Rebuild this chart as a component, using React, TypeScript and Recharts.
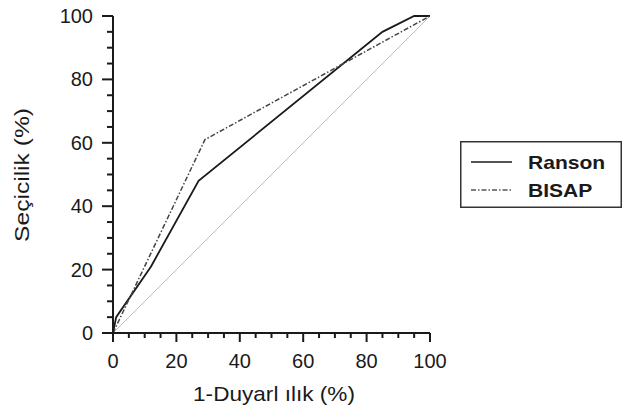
import React from 'react';
import { LineChart, Line, XAxis, YAxis } from 'recharts';

// ROC points: x = 1-sensitivity (%), y = selectivity (%)
const ransonX = [0, 1, 12, 27, 85, 95, 100];
const ransonY = [0, 5, 21, 48, 95, 100, 100];
const bisapX = [0, 29, 100];
const bisapY = [0, 61, 100];
const refX = [0, 100];
const refY = [0, 100];
const axisTicks = [0, 5, 10, 15, 20, 25, 30, 35, 40, 45, 50, 55, 60, 65, 70, 75, 80, 85, 90, 95, 100];
const seriesNames = ['Ranson', 'BISAP'];

const toPoints = (xs: number[], ys: number[]) => xs.map((x, i) => ({ x, y: ys[i] }));

const ransonData = toPoints(ransonX, ransonY);
const bisapData = toPoints(bisapX, bisapY);
const refData = toPoints(refX, refY);

const FONT = 'Liberation Sans, Arial, sans-serif';
const INK = '#1a1a1a';
const DASH_DOT = '5 2 1.5 2';

const XTick = (props: any) => {
  const { x, y, payload } = props;
  const major = payload.value % 20 === 0;
  return (
    <g>
      <line x1={x} x2={x} y1={y} y2={y + (major ? 9 : 5)} stroke={INK} strokeWidth={2} />
      {major && (
        <text x={x} y={y + 35} textAnchor="middle" fontSize={20} fontFamily={FONT} fill={INK}>
          {payload.value}
        </text>
      )}
    </g>
  );
};

const YTick = (props: any) => {
  const { x, y, payload } = props;
  const major = payload.value % 20 === 0;
  return (
    <g>
      <line x1={x} x2={x - (major ? 11 : 6)} y1={y} y2={y} stroke={INK} strokeWidth={2} />
      {major && (
        <text x={x - 20} y={y + 7} textAnchor="end" fontSize={20} fontFamily={FONT} fill={INK}>
          {payload.value}
        </text>
      )}
    </g>
  );
};

const XTitle = () => (
  <g transform="translate(274, 401) scale(1.13, 1)">
    <text x={0} y={0} textAnchor="middle" fontSize={20} fontFamily={FONT} fill={INK}>
      1-Duyarl ılık (%)
    </text>
  </g>
);

const YTitle = () => (
  <g transform="translate(29, 175) rotate(-90) scale(1.23, 1)">
    <text x={0} y={0} textAnchor="middle" fontSize={20} fontFamily={FONT} fill={INK}>
      Seçicilik (%)
    </text>
  </g>
);

const LegendBox = () => (
  <svg
    width={162}
    height={67}
    style={{ position: 'absolute', left: 460, top: 141, fontFamily: FONT }}
  >
    <rect x={0.75} y={0.75} width={160.5} height={65.5} fill="#fff" stroke="#333" strokeWidth={1.5} />
    <line x1={11} x2={52} y1={21} y2={21} stroke={INK} strokeWidth={1.6} />
    <line x1={11} x2={52} y1={49} y2={49} stroke="#555" strokeWidth={1.5} strokeDasharray={DASH_DOT} />
    <g transform="translate(68, 28) scale(1.17, 1)">
      <text x={0} y={0} fontSize={18} fontWeight="bold" fill={INK}>{seriesNames[0]}</text>
    </g>
    <g transform="translate(68, 56) scale(1.17, 1)">
      <text x={0} y={0} fontSize={18} fontWeight="bold" fill={INK}>{seriesNames[1]}</text>
    </g>
  </svg>
);

export default function App() {
  return (
    <div style={{ position: 'absolute', left: 0, top: 0, width: 629, height: 414, background: '#fff' }}>
      <LineChart width={629} height={414} margin={{ top: 16, right: 199, bottom: 0, left: 0 }}>
        <XAxis
          dataKey="x"
          type="number"
          domain={[0, 100]}
          ticks={axisTicks}
          interval={0}
          tickSize={0}
          tickMargin={0}
          height={81}
          axisLine={{ stroke: INK, strokeWidth: 2 }}
          tick={<XTick />}
          label={{ content: () => <XTitle /> }}
          allowDuplicatedCategory={false}
        />
        <YAxis
          dataKey="y"
          type="number"
          domain={[0, 100]}
          ticks={axisTicks}
          interval={0}
          tickSize={0}
          tickMargin={0}
          width={113}
          axisLine={{ stroke: INK, strokeWidth: 2 }}
          tick={<YTick />}
          label={{ content: () => <YTitle /> }}
        />
        <Line data={refData} dataKey="y" stroke="#bdbdbd" strokeWidth={1} dot={false} legendType="none" isAnimationActive={false} />
        <Line data={ransonData} dataKey="y" name={seriesNames[0]} stroke={INK} strokeWidth={1.8} dot={false} isAnimationActive={false} />
        <Line data={bisapData} dataKey="y" name={seriesNames[1]} stroke="#444" strokeWidth={1.5} strokeDasharray={DASH_DOT} dot={false} isAnimationActive={false} />
      </LineChart>
      <LegendBox />
    </div>
  );
}
